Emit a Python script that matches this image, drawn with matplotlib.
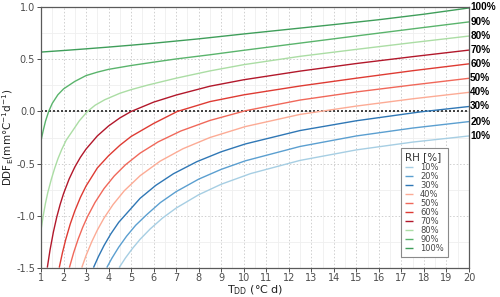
import numpy as np
import matplotlib
matplotlib.use("Agg")
import matplotlib.pyplot as plt
from matplotlib.ticker import MultipleLocator

# values (T_DD in degC d, DDF_E in mm degC-1 d-1)
rh_labels = ["10%", "20%", "30%", "40%", "50%", "60%", "70%", "80%", "90%", "100%"]
rh_colors = ["#a6cee3", "#5b9fd0", "#2f77b5", "#fcab95", "#f0685a", "#de3b33",
             "#b2182b", "#abdda4", "#5ab46c", "#3f9e5a"]

t_10 = [4.47, 4.75, 5.05, 5.4, 5.85, 6.4, 7.0, 8.0, 9.0, 10.3, 12.5, 15, 17.5, 20]
ddf_10 = [-1.5, -1.407, -1.319, -1.228, -1.128, -1.023, -0.928, -0.80, -0.699, -0.597,
          -0.47, -0.369, -0.294, -0.235]

t_20 = [3.92, 4.15, 4.45, 4.8, 5.2, 5.7, 6.3, 7.0, 8.0, 9.0, 10.07, 12.5, 15, 17.5, 20]
ddf_20 = [-1.5, -1.409, -1.304, -1.198, -1.094, -0.99, -0.875, -0.77, -0.65, -0.556,
          -0.474, -0.336, -0.235, -0.159, -0.097]

t_30 = [3.33, 3.55, 3.8, 4.1, 4.45, 4.8, 5.4, 6.1, 6.88, 7.92, 9.0, 10.07, 12.5, 15,
        17.8, 20]
ddf_30 = [-1.5, -1.394, -1.287, -1.176, -1.065, -0.98, -0.834, -0.709, -0.598, -0.482,
          -0.387, -0.312, -0.183, -0.089, -0.005, 0.048]

t_40 = [2.81, 3.0, 3.25, 3.5, 3.8, 4.2, 4.7, 5.4, 6.29, 7.3, 8.5, 10.07, 12.5, 15, 17.5, 20]
ddf_40 = [-1.5, -1.384, -1.253, -1.14, -1.023, -0.894, -0.761, -0.617, -0.477, -0.358,
          -0.25, -0.145, -0.028, 0.052, 0.122, 0.184]

t_50 = [2.26, 2.45, 2.65, 2.85, 3.06, 3.4, 3.8, 4.25, 4.75, 5.4, 6.2, 7.2, 8.5, 10.07,
        12.5, 15, 17.5, 20]
ddf_50 = [-1.5, -1.356, -1.226, -1.114, -1.012, -0.873, -0.74, -0.62, -0.512, -0.4,
          -0.292, -0.188, -0.086, 0.007, 0.11, 0.188, 0.255, 0.319]

t_60 = [1.81, 1.95, 2.1, 2.3, 2.5, 2.75, 3.0, 3.5, 4.0, 4.5, 5.0, 6.0, 7.05, 8.5, 10,
        12.5, 15, 17.5, 20]
ddf_60 = [-1.5, -1.359, -1.228, -1.08, -0.956, -0.825, -0.716, -0.543, -0.425, -0.325,
          -0.24, -0.115, 0.0, 0.095, 0.16, 0.245, 0.32, 0.392, 0.458]

t_70 = [1.28, 1.4, 1.55, 1.7, 1.85, 2.0, 2.25, 2.5, 2.75, 3.0, 3.5, 4.0, 4.5, 5.0, 6.0,
        7.0, 8.5, 10, 12.5, 15, 17.5, 20]
ddf_70 = [-1.5, -1.332, -1.158, -1.014, -0.893, -0.79, -0.648, -0.534, -0.44, -0.361,
          -0.235, -0.139, -0.062, 0.0, 0.09, 0.158, 0.243, 0.305, 0.388, 0.461, 0.527, 0.59]

t_80 = [1.0, 1.1, 1.2, 1.3, 1.46, 1.6, 1.75, 1.92, 2.12, 2.42, 2.7, 3.06, 3.4, 3.83, 4.5,
        5.0, 5.76, 7.0, 8.5, 10, 12.5, 15, 17.5, 20]
ddf_80 = [-1.14, -1.0, -0.88, -0.78, -0.65, -0.55, -0.455, -0.365, -0.275, -0.18, -0.09,
          0.0, 0.06, 0.113, 0.175, 0.21, 0.255, 0.32, 0.39, 0.45, 0.53, 0.597, 0.662, 0.725]

t_90 = [1.0, 1.1, 1.2, 1.34, 1.5, 1.75, 2.0, 2.5, 3.0, 3.5, 4.0, 5.0, 6.0, 7.0, 8.5, 10,
        12.5, 15, 17.5, 20]
ddf_90 = [-0.28, -0.182, -0.093, 0.0, 0.078, 0.161, 0.217, 0.289, 0.345, 0.378, 0.405,
          0.442, 0.474, 0.505, 0.545, 0.588, 0.657, 0.726, 0.794, 0.861]

t_100 = [1, 2, 3, 4, 5, 6, 8, 10, 12, 14, 16, 18, 20]
ddf_100 = [0.571, 0.586, 0.602, 0.619, 0.637, 0.656, 0.698, 0.745, 0.79, 0.835, 0.882,
           0.935, 0.995]

series_t = [t_10, t_20, t_30, t_40, t_50, t_60, t_70, t_80, t_90, t_100]
series_ddf = [ddf_10, ddf_20, ddf_30, ddf_40, ddf_50, ddf_60, ddf_70, ddf_80, ddf_90, ddf_100]

# label positions at the right edge
end_labels_y = [-0.235, -0.097, 0.048, 0.184, 0.319, 0.458, 0.59, 0.725, 0.861, 1.0]

fig = plt.figure(figsize=(5.0, 2.97), dpi=100)
ax = fig.add_axes([0.082, 0.099, 0.856, 0.876])

grey = "#4d4d4d"
ax.xaxis.set_major_locator(MultipleLocator(1))
ax.xaxis.set_minor_locator(MultipleLocator(0.5))
ax.yaxis.set_major_locator(MultipleLocator(0.5))
ax.yaxis.set_minor_locator(MultipleLocator(0.25))
ax.grid(which="minor", color="#efefef", linewidth=0.6)
ax.grid(which="major", color="#cfcfcf", linewidth=0.7, linestyle=(0, (1.5, 2)))
ax.set_axisbelow(True)

for t, d, c, lab in zip(series_t, series_ddf, rh_colors, rh_labels):
    ax.plot(t, d, color=c, linewidth=1.0, label=lab, solid_capstyle="butt")

ax.axhline(0, color="#222222", linewidth=1.2, linestyle=(0, (1.2, 1.2)), zorder=1.5)

ax.set_xlim(1, 20)
ax.set_ylim(-1.5, 1.0)
ax.set_xticks(np.arange(1, 21))
ax.set_yticks([-1.5, -1.0, -0.5, 0.0, 0.5, 1.0])
ax.set_yticklabels(["-1.5", "-1.0", "-0.5", "0.0", "0.5", "1.0"])

for side in ["top", "right", "left", "bottom"]:
    ax.spines[side].set_color("#5a5a5a")
    ax.spines[side].set_linewidth(0.9)
ax.tick_params(which="major", length=3, width=0.7, color=grey, labelsize=7,
               labelcolor=grey, pad=1.2)
ax.tick_params(which="minor", length=0)

ax.set_xlabel("T$_{\\mathrm{DD}}$ (°C d)", fontsize=8, color="#222222", labelpad=0)
ax.set_ylabel("DDF$_{\\mathrm{E}}$(mm°C$^{-1}$d$^{-1}$)", fontsize=7.5, color="#222222",
              labelpad=0)
ax.yaxis.set_label_coords(-0.059, 0.5)

for yv, lab in zip(end_labels_y, rh_labels):
    ax.text(20.05, yv, lab, fontsize=7.2, fontweight="bold", family="Liberation Sans",
            va="center", ha="left", clip_on=False)

leg = ax.legend(title="RH [%]", loc="lower right", bbox_to_anchor=(0.951, 0.042),
                borderaxespad=0, fontsize=6, title_fontsize=7.5, labelspacing=0.0,
                handlelength=0.9, handletextpad=0.9, borderpad=0.5, fancybox=False,
                edgecolor="#8a8a8a", framealpha=1, alignment="left")
leg.get_frame().set_linewidth(0.8)
for txt in leg.get_texts():
    txt.set_color("#444444")
leg.get_title().set_color("#333333")

fig.savefig("out.png", dpi=100)
